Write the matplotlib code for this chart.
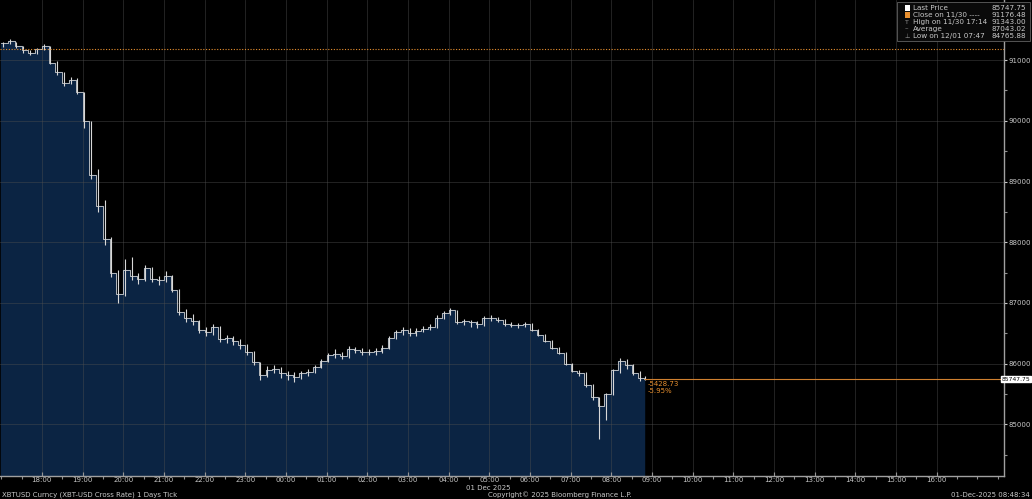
import matplotlib.pyplot as plt
import numpy as np
from matplotlib.ticker import MultipleLocator

# 10-minute bars, hours relative to 01 Dec 00:00 (first bar 30 Nov 17:00)
closes = [91280, 91320, 91230, 91160, 91110, 91180, 91240, 90960, 90800, 90620,
          90680, 90480, 90000, 89100, 88600, 88050, 87500, 87150, 87550, 87450,
          87400, 87580, 87400, 87380, 87450, 87220, 86850, 86750, 86700, 86560,
          86520, 86600, 86400, 86420, 86380, 86300, 86200, 86020, 85820, 85900,
          85920, 85850, 85820, 85780, 85840, 85870, 85950, 86050, 86150, 86160,
          86120, 86240, 86230, 86200, 86190, 86210, 86260, 86420, 86520, 86550,
          86500, 86540, 86570, 86600, 86760, 86830, 86880, 86680, 86700, 86680,
          86650, 86760, 86750, 86720, 86660, 86640, 86630, 86660, 86560, 86480,
          86380, 86260, 86180, 86000, 85880, 85840, 85650, 85450, 85300, 85500,
          85900, 86050, 85980, 85850, 85760, 85747.75]
highs = [91300, 91343, 91300, 91230, 91170, 91200, 91270, 91240, 90980, 90800,
         90720, 90700, 90480, 90000, 89200, 88700, 88080, 87550, 87720, 87760,
         87500, 87620, 87600, 87450, 87520, 87460, 87230, 86900, 86820, 86720,
         86600, 86660, 86620, 86480, 86460, 86400, 86320, 86210, 86030, 85960,
         85980, 85940, 85880, 85860, 85880, 85920, 85980, 86080, 86180, 86250,
         86200, 86290, 86280, 86260, 86240, 86260, 86300, 86460, 86560, 86600,
         86580, 86580, 86620, 86660, 86800, 86870, 86920, 86890, 86740, 86720,
         86700, 86790, 86800, 86770, 86730, 86690, 86670, 86690, 86670, 86570,
         86490, 86390, 86280, 86190, 86010, 85900, 85860, 85660, 85460, 85520,
         85920, 86100, 86080, 86000, 85880, 85790]
lows = [91220, 91260, 91200, 91120, 91080, 91100, 91160, 90940, 90760, 90580,
        90600, 90440, 89880, 89050, 88500, 87950, 87420, 87000, 87120, 87380,
        87320, 87370, 87350, 87300, 87350, 87180, 86800, 86680, 86640, 86500,
        86460, 86480, 86360, 86340, 86310, 86250, 86150, 85980, 85730, 85780,
        85840, 85760, 85740, 85700, 85750, 85800, 85840, 85930, 86020, 86100,
        86070, 86100, 86180, 86150, 86140, 86150, 86180, 86250, 86400, 86480,
        86460, 86460, 86520, 86560, 86580, 86740, 86800, 86650, 86640, 86600,
        86580, 86620, 86700, 86680, 86620, 86600, 86590, 86600, 86540, 86450,
        86350, 86240, 86160, 85980, 85860, 85800, 85620, 85400, 84766, 85080,
        85480, 85850, 85920, 85820, 85720, 85740]
times = np.append(-7 + np.arange(95) / 6, 8.8)

prev_close = 91176.48
last_price = 85747.75
tick_hours = list(range(-6, 17))
tick_labels = ['%02d:00' % (h % 24) for h in tick_hours]

legend_rows = [('Last Price', '85747.75'),
               ('Close on 11/30 ----', '91176.48'),
               ('High on 11/30 17:14', '91343.00'),
               ('Average', '87043.02'),
               ('Low on 12/01 07:47', '84765.88')]

fg = '#c8c8c8'
orange = '#e8902f'
fill_col = '#0b2443'
y0, y1 = 84150, 91990

fig = plt.figure(figsize=(10.32, 4.99), dpi=100, facecolor='black')
ax = fig.add_axes([0.0, 0.046, 0.973, 0.954], facecolor='black')

# area under the closes
ax.fill_between(times, closes, y0, step='post', color=fill_col, zorder=1)
ax.step(times, closes, where='post', color='#d0d0d0', lw=0.6, zorder=3)
ax.vlines(times + 1 / 24, lows, highs, color='#d8d8d8', lw=0.8, zorder=3)

# grid
for h in tick_hours:
    ax.axvline(h, color='#505050', lw=0.6, alpha=0.5, zorder=2)
for p in range(85000, 92000, 1000):
    ax.axhline(p, color='#505050', lw=0.6, alpha=0.5, zorder=2)

# reference lines
ax.axhline(prev_close, color=orange, lw=0.8, ls=(0, (1, 1.5)), zorder=4)
ax.hlines(last_price, times[-1], 18, color='#d08030', lw=0.8, zorder=4)
ax.text(times[-1] + 0.1, last_price - 75, '-5428.73', color=orange,
        fontsize=5, va='center')
ax.text(times[-1] + 0.1, last_price - 195, '-5.95%', color=orange,
        fontsize=5, va='center')

ax.set_xlim(-7.03, 17.66)
ax.set_ylim(y0, y1)

ax.yaxis.tick_right()
ax.set_yticks(range(85000, 92000, 1000))
ax.yaxis.set_minor_locator(MultipleLocator(500))
ax.set_xticks(tick_hours)
ax.set_xticklabels(tick_labels)
ax.xaxis.set_minor_locator(MultipleLocator(0.5))
ax.tick_params(colors=fg, labelsize=5, length=3, width=0.8, direction='in', pad=1)
ax.tick_params(axis='y', direction='out', length=2.5, pad=1)
ax.tick_params(which='minor', colors='#909090', length=2, width=0.8)
for s in ['top', 'left']:
    ax.spines[s].set_visible(False)
for s in ['right', 'bottom']:
    ax.spines[s].set_color('#a0a0a0')
    ax.spines[s].set_linewidth(1.0)

# last price tag on the axis
tag_y = 0.046 + 0.954 * (last_price - y0) / (y1 - y0)
fig.text(1030 / 1032, tag_y, '85747.75', fontsize=4.3, color='black',
         va='center', ha='right',
         bbox=dict(boxstyle='square,pad=0.12', fc='white', ec='white'))

# legend box
fig.patches.append(plt.Rectangle((897 / 1032, 1 - 41 / 499), 133 / 1032, 39 / 499,
                                 transform=fig.transFigure, fc='#0a0a0a',
                                 ec='#606060', lw=0.6, zorder=5))
markers = ['white', orange, None, None, None]
symbols = ['', '', 'T', '--', '\u22a5']
for i, (name, val) in enumerate(legend_rows):
    y = 1 - (8 + 7 * i) / 499
    if markers[i]:
        fig.patches.append(plt.Rectangle((905 / 1032, y - 2.5 / 499), 5 / 1032, 5 / 499,
                                         transform=fig.transFigure, fc=markers[i],
                                         ec='none', zorder=6))
    else:
        fig.text(907 / 1032, y, symbols[i], color='#909090', fontsize=4.5,
                 ha='center', va='center', zorder=6)
    fig.text(913 / 1032, y, name, color=fg, fontsize=5.2, va='center', zorder=6)
    fig.text(1026 / 1032, y, val, color=fg, fontsize=5.2, va='center', ha='right', zorder=6)

# footer
fig.text(488 / 1032, 1 - 488 / 499, '01 Dec 2025', color=fg, fontsize=5,
         ha='center', va='center')
fig.text(0.002, 1 - 495 / 499, 'XBTUSD Curncy (XBT-USD Cross Rate) 1 Days Tick',
         color=fg, fontsize=5, va='center')
fig.text(560 / 1032, 1 - 495 / 499, 'Copyright\u00a9 2025 Bloomberg Finance L.P.',
         color=fg, fontsize=5, ha='center', va='center')
fig.text(0.998, 1 - 495 / 499, '01-Dec-2025 08:48:34', color=fg, fontsize=5,
         ha='right', va='center')

fig.savefig('out.png', dpi=100, facecolor='black')
